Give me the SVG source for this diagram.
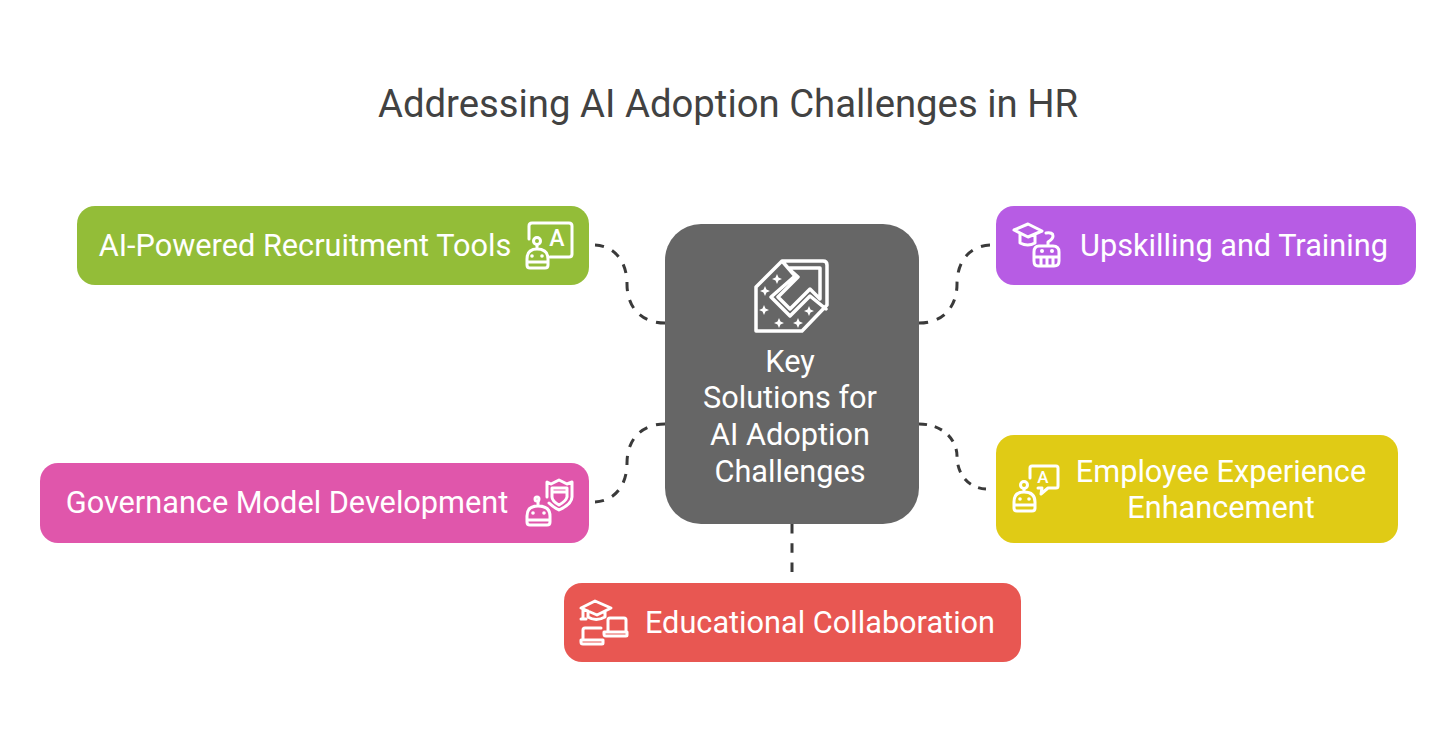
<svg xmlns="http://www.w3.org/2000/svg" width="1456" height="739" viewBox="0 0 1456 739">
<style>
text{font-family:Roboto,"Liberation Sans",sans-serif;fill:#fff;font-size:30.7px;text-anchor:middle}
.title{fill:#424242;font-size:38.3px}
.i{fill:none;stroke:#fff;stroke-width:3;stroke-linejoin:round;stroke-linecap:round}
.d{fill:#fff}
.a{font-size:23px;font-weight:500}
.c{fill:none;stroke:#3a3a3a;stroke-width:3;stroke-dasharray:10 10}
</style>
<rect width="1456" height="739" fill="#fff"/>
<text class="title" x="728" y="117">Addressing AI Adoption Challenges in HR</text>
<g id="connectors">
<path class="c" pathLength="130" d="M595 245C615 246 627 262 627 284C627 306 640 323 665 323"/>
<path class="c" pathLength="130" d="M919 323C944 323 957 306 957 284C957 262 969 246 990 245"/>
<path class="c" pathLength="130" d="M595 502C615 501 627 485 627 463C627 441 640 424 665 424"/>
<path class="c" pathLength="130" d="M919 424C944 424 957 441 957 456C957 474 968 488 986 489"/>
<path class="c" pathLength="50" d="M792 524V572"/>
</g>
<g id="center">
<rect x="665" y="224" width="254" height="300" rx="36" fill="#666"/>
<path class="i" style="stroke-width:3.5" d="M756 287L782 261H823Q827 261 827 265V305L802 331H756ZM782 261L795 276 771 297 790 316 810 296 826 309M788 268H820V299L810 289 790 309 778 297 798 277Z"/>
<path class="d" d="M777 274l1.500 3.500 3.500 1.500-3.500 1.500-1.500 3.500-1.500-3.500-3.500-1.500 3.500-1.500zM765 286l1.500 3.500 3.500 1.500-3.500 1.500-1.500 3.500-1.500-3.500-3.500-1.500 3.500-1.500zM764 305l1.500 3.500 3.500 1.500-3.500 1.500-1.500 3.500-1.500-3.500-3.500-1.500 3.500-1.500zM779 318l1.500 3.500 3.500 1.500-3.500 1.500-1.500 3.500-1.500-3.500-3.500-1.500 3.500-1.500zM798 318l1.500 3.500 3.500 1.500-3.500 1.500-1.500 3.500-1.500-3.500-3.500-1.500 3.500-1.500zM809 306l1.500 3.500 3.500 1.500-3.500 1.500-1.500 3.500-1.500-3.500-3.500-1.500 3.500-1.500z"/>
<text x="790" y="372">Key</text>
<text x="790" y="408">Solutions for</text>
<text x="790" y="445">AI Adoption</text>
<text x="790" y="482">Challenges</text>
</g>
<g id="recruitment">
<rect x="77" y="206" width="512" height="79" rx="18" fill="#93bd38"/>
<text x="305" y="256">AI-Powered Recruitment Tools</text>
<path class="i" d="M529 239V226Q529 223 532 223H569Q572 223 572 226V254Q572 257 569 257H550"/>
<text class="a" x="557" y="246">A</text>
<circle class="i" cx="537" cy="241" r="3.5"/>
<path class="i" d="M537 245V249M527 259Q527 249 537 249Q548 249 548 259V265Q548 268 545 268H530Q527 268 527 265ZM527 262H548"/>
<circle class="d" cx="532" cy="256" r="1.8"/><circle class="d" cx="542" cy="256" r="1.8"/>
</g>
<g id="upskilling">
<rect x="996" y="206" width="420" height="79" rx="18" fill="#b75ce4"/>
<text x="1234" y="256">Upskilling and Training</text>
<path class="i" d="M1014 230L1028 224 1042 231 1028 237ZM1020 234V243Q1028 247 1035 243V235M1046 233Q1053 232 1053 236 1053 239 1048 242V246M1039 246H1053Q1059 246 1059 252V261Q1059 266 1054 266H1038Q1034 266 1034 261V252Q1034 246 1039 246ZM1034 257H1059M1041 257V266M1047 257V266M1053 257V266"/>
<circle class="d" cx="1042" cy="251" r="2"/><circle class="d" cx="1052" cy="251" r="2"/>
</g>
<g id="experience">
<rect x="996" y="435" width="402" height="108" rx="18" fill="#e0cb15"/>
<text x="1221" y="482">Employee Experience</text>
<text x="1221" y="518">Enhancement</text>
<path class="i" d="M1030 478V468Q1030 466 1032 466H1056Q1058 466 1058 468V486Q1058 488 1056 488H1048L1041 494 1042 488H1038"/>
<text class="a" x="1043" y="483" style="font-size:17px">A</text>
<circle class="i" cx="1024" cy="485" r="3.5"/>
<path class="i" d="M1024 489V492M1014 502Q1014 492 1024 492Q1035 492 1035 502V508Q1035 511 1032 511H1017Q1014 511 1014 508ZM1014 505H1035"/>
<circle class="d" cx="1020" cy="499" r="1.8"/><circle class="d" cx="1029" cy="499" r="1.8"/>
</g>
<g id="governance">
<rect x="40" y="463" width="549" height="80" rx="18" fill="#e056ab"/>
<text x="287" y="513">Governance Model Development</text>
<path class="i" d="M547 497V482L551 484 559 480 567 484 572 482V497Q572 504 559 510 553 507 549 503M552 488H567V497Q566 501 559 505 552 501 552 497ZM552 492H567"/>
<circle class="i" cx="537" cy="499" r="2"/>
<path class="i" d="M538 501V505M527 516Q527 506 538 506Q550 506 550 516V522Q550 525 547 525H530Q527 525 527 522ZM527 520H550"/>
<circle class="d" cx="533" cy="513" r="1.8"/><circle class="d" cx="544" cy="513" r="1.8"/>
</g>
<g id="education">
<rect x="564" y="583" width="457" height="79" rx="18" fill="#e85752"/>
<text x="820" y="633">Educational Collaboration</text>
<path class="i" d="M581 608L595 601 611 608 597 615ZM588 611V617Q596 622 605 617V612M583 609V619M581 619H586M608 632V620Q608 618 610 618H624Q626 618 626 620V632M604 632H627V635Q627 636 626 636H606Q604 636 604 634ZM583 640V630Q583 628 585 628H601M581 640H603V643Q603 644 602 644H583Q581 644 581 642Z"/>
</g>
</svg>
